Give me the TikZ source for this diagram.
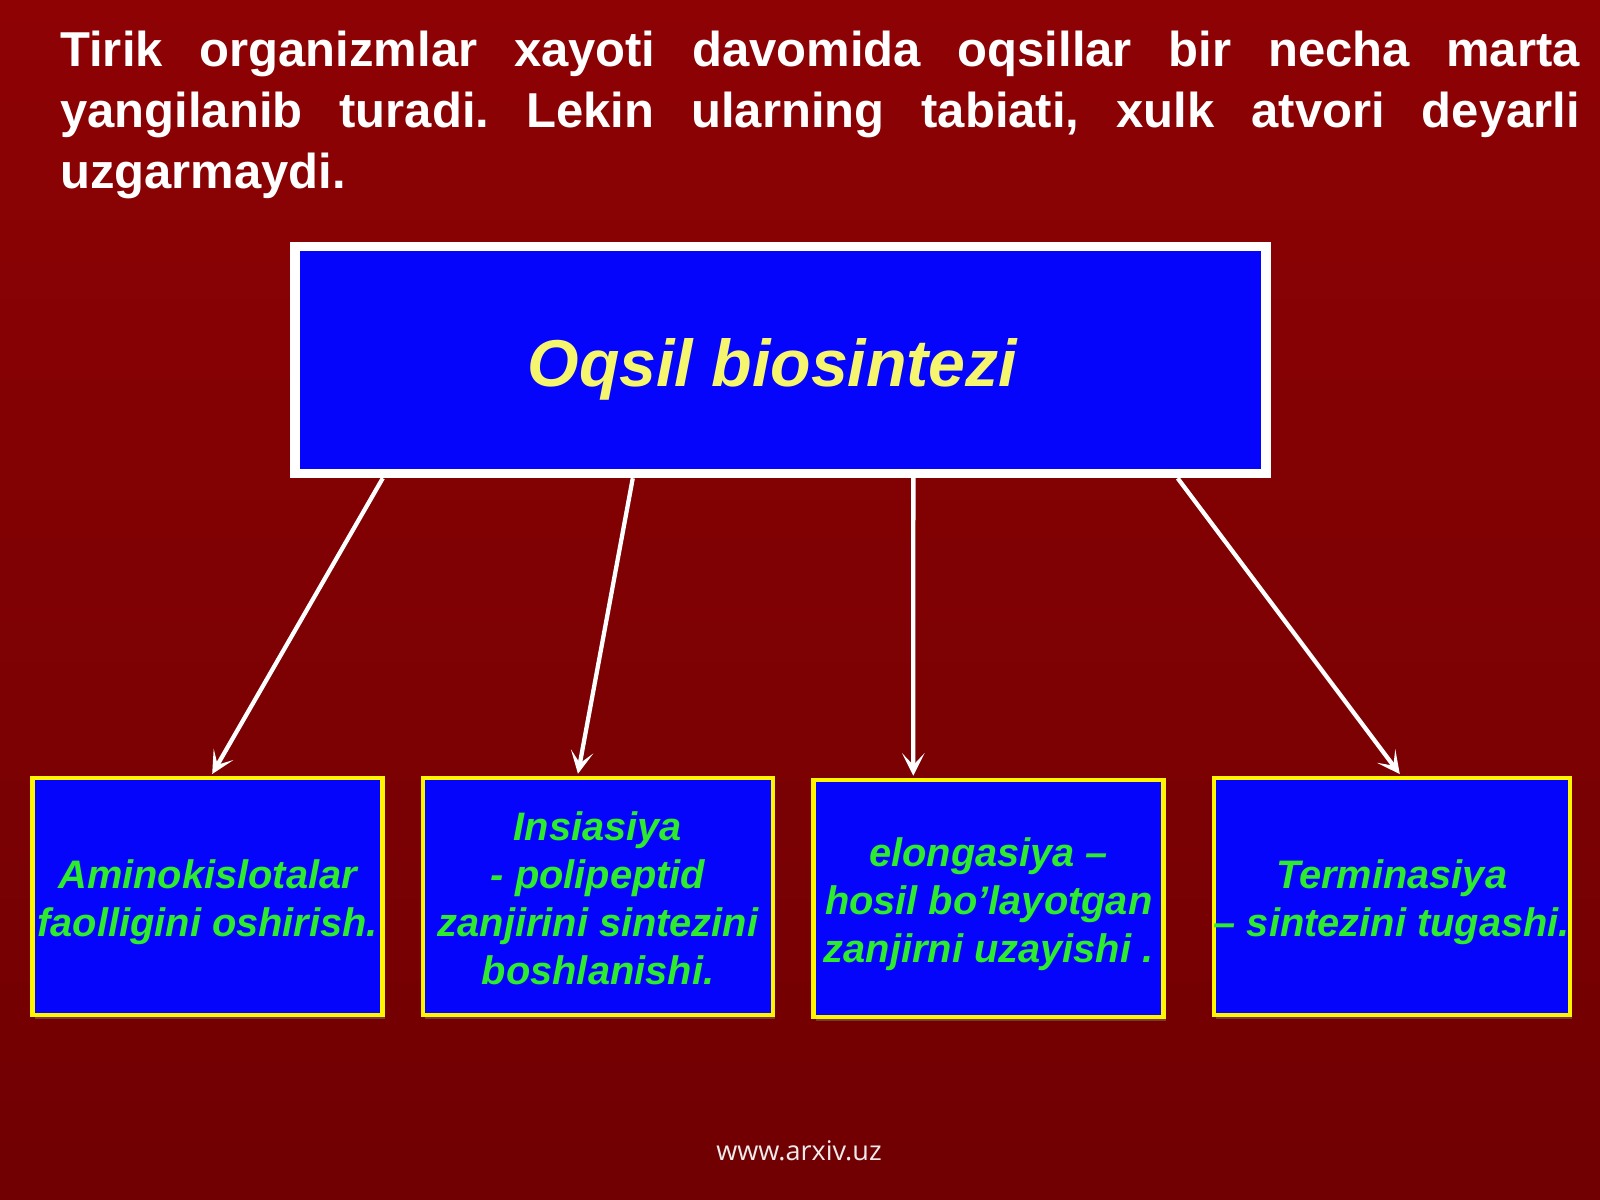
\documentclass[tikz,border=0pt]{standalone}
\usepackage{fontspec}
\setmainfont{Liberation Sans}
\newfontfamily\opensansfam{Open Sans}
\usetikzlibrary{arrows.meta,calc,shadows}
\definecolor{bgtop}{RGB}{142,2,4}
\definecolor{bgbot}{RGB}{112,0,2}
\definecolor{boxblue}{RGB}{5,5,252}
\definecolor{boxyellow}{RGB}{255,245,0}
\definecolor{titleyellow}{RGB}{245,245,110}
\definecolor{txtgreen}{RGB}{45,235,45}
\definecolor{footgray}{RGB}{240,235,235}
\newcommand{\topstrut}[1]{\rule{0pt}{#1}}
\tikzset{
  mainbox/.style={draw=white, fill=boxblue, line width=7.1pt, minimum width=728.4pt, minimum height=170.25pt, inner sep=0pt},
  subbox/.style={draw=boxyellow, fill=boxblue, line width=3.4pt, minimum width=262.5pt, minimum height=177.75pt, inner sep=0pt, align=center, text=txtgreen,
    font=\bfseries\itshape\fontsize{29.85pt}{36pt}\selectfont,
    drop shadow={shadow xshift=1.5pt, shadow yshift=-3pt, opacity=0.45}},
  arr/.style={draw=white, line width=3.2pt, -{Stealth[length=17pt, width=17pt, inset=9pt]}, shorten >=1.5pt}
}
\begin{document}
\begin{tikzpicture}[x=0.75pt,y=-0.75pt]
\useasboundingbox (0,0) rectangle (1600,1200);
\shade[top color=bgtop, bottom color=bgbot] (0,0) rectangle (1600,1200);

\node[anchor=north west, inner sep=0pt, text width=1139.7pt, align=justify, text=white,
  font=\bfseries\fontsize{36.75pt}{45.75pt}\selectfont] (title) at (60,30.7)
  {\frenchspacing\hyphenpenalty=10000 Tirik organizmlar xayoti davomida oqsillar bir necha marta\linebreak yangilanib turadi. Lekin ularning tabiati, xulk atvori deyarli\linebreak uzgarmaydi.};

\node[mainbox] (main) at (780.4,360) {};
\node[inner sep=0pt, text=titleyellow, font=\bfseries\itshape\fontsize{49.7pt}{60pt}\selectfont] (maintext) at (772.5,369.5) {Oqsil biosintezi};

\node[subbox] (b1) at (207.7,896.5) {\topstrut{30.6pt}Aminokislotalar\\faolligini oshirish.};
\node[subbox] (b2) at (598,896.5) {\topstrut{24.4pt}Insiasiya\\- polipeptid\\zanjirini sintezini\\boshlanishi.};
\node[subbox] (b3) at (988.7,898.5) {\topstrut{29.8pt}elongasiya –\\hosil bo’layotgan\\zanjirni uzayishi .};
\node[subbox] (b4) at (1391.8,896.5) {\topstrut{30.6pt}Terminasiya\\– sintezini tugashi.};

\draw[arr] ($(main.south west)+(92.7,0)$) -- ($(b1.north)+(3.5,0)$);
\draw[arr] ($(main.south west)+(342.7,0)$) -- ($(b2.north)+(-20.4,0)$);
\draw[arr] ($(main.south west)+(623.3,0)$) -- ($(b3.north)+(-75.4,0)$);
\draw[arr] ($(main.south west)+(887.6,0)$) -- ($(b4.north)+(9.2,0)$);

\node[anchor=base, inner sep=0pt, text=footgray, font=\opensansfam\fontsize{20.3pt}{25pt}\selectfont] (foot) at (799,1160) {www.arxiv.uz};
\end{tikzpicture}
\end{document}
